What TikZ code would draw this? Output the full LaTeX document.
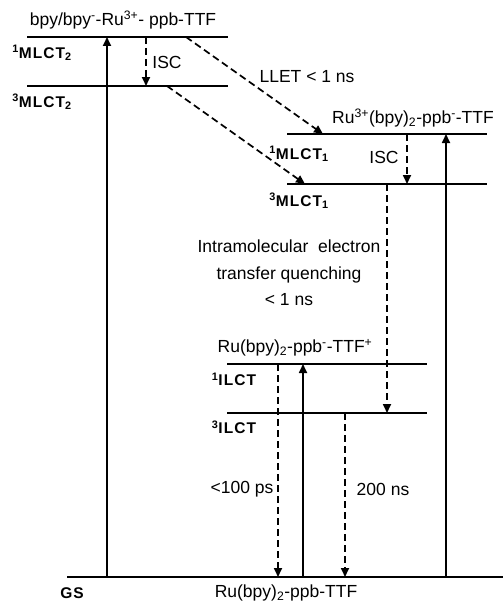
\documentclass[tikz,border=0pt]{standalone}
\usepackage{fontspec}
\setmainfont{Liberation Sans}
\newfontfamily\lblfont[LetterSpace=7]{Liberation Sans}
\usetikzlibrary{arrows.meta}
\tikzset{
  lvl/.style={line width=2.8pt},
  uparrow/.style={line width=1.7pt,-{Triangle[length=9pt,width=8pt]}},
  dasharrow/.style={line width=1.7pt,dash pattern=on 7pt off 4pt,-{Triangle[length=9pt,width=8pt]}},
  txt/.style={font=\fontsize{17.5}{20}\selectfont,inner sep=0pt},
  lbl/.style={font=\lblfont\bfseries\fontsize{15.5}{18}\selectfont,inner sep=0pt},
}
\begin{document}
\begin{tikzpicture}[x=1pt,y=-1pt]
\useasboundingbox (0,0) rectangle (503,602);
% level end points
\coordinate (A1) at (27,37);  \coordinate (A2) at (228,37);
\coordinate (B1) at (27,86);  \coordinate (B2) at (228,86);
\coordinate (C1) at (287,134); \coordinate (C2) at (487,134);
\coordinate (D1) at (287,184); \coordinate (D2) at (487,184);
\coordinate (E1) at (227,364); \coordinate (E2) at (427,364);
\coordinate (F1) at (227,413); \coordinate (F2) at (427,413);
\coordinate (G1) at (67,577);  \coordinate (G2) at (503,577);
\draw[lvl] (A1) -- (A2);
\draw[lvl] (B1) -- (B2);
\draw[lvl] (C1) -- (C2);
\draw[lvl] (D1) -- (D2);
\draw[lvl] (E1) -- (E2);
\draw[lvl] (F1) -- (F2);
\draw[lvl] (G1) -- (G2);
% arrow end points
\coordinate (gA) at (107,577); \coordinate (tA) at (107,37);
\coordinate (gE) at (303,577); \coordinate (tE) at (303,364);
\coordinate (gC) at (446,577); \coordinate (tC) at (446,134);
\coordinate (isc1s) at (146,37); \coordinate (isc1e) at (146,86);
\coordinate (isc2s) at (407,134); \coordinate (isc2e) at (407,184);
\coordinate (ll1s) at (186,37); \coordinate (ll1e) at (323,134);
\coordinate (ll2s) at (167,86); \coordinate (ll2e) at (305,184);
\coordinate (ets) at (387,184); \coordinate (ete) at (387,413);
\coordinate (f1s) at (278,364); \coordinate (f1e) at (278,577);
\coordinate (f2s) at (345,413); \coordinate (f2e) at (345,577);
\draw[uparrow] (gA) -- (tA);
\draw[uparrow] (gE) -- (tE);
\draw[uparrow] (gC) -- (tC);
\draw[dasharrow] (isc1s) -- (isc1e);
\draw[dasharrow] (isc2s) -- (isc2e);
\draw[dasharrow] (ll1s) -- (ll1e);
\draw[dasharrow] (ll2s) -- (ll2e);
\draw[dasharrow] (ets) -- (ete);
\draw[dasharrow] (f1s) -- (f1e);
\draw[dasharrow] (f2s) -- (f2e);
% texts
\node[txt] (t1) at (123,20) {bpy/bpy\textsuperscript{-}-Ru\textsuperscript{3+}- ppb-TTF};
\node[lbl] (l1) at (42,53) {\textsuperscript{1}MLCT\textsubscript{2}};
\node[lbl] (l2) at (42,102) {\textsuperscript{3}MLCT\textsubscript{2}};
\node[txt] (isc1) at (167,62) {ISC};
\node[txt] (llet) at (307,77) {LLET {\textless} 1 ns};
\node[txt] (t2) at (413,118) {Ru\textsuperscript{3+}(bpy)\textsubscript{2}-ppb\textsuperscript{-}-TTF};
\node[lbl] (l3) at (299,154) {\textsuperscript{1}MLCT\textsubscript{1}};
\node[txt] (isc2) at (384,157) {ISC};
\node[lbl] (l4) at (299,201) {\textsuperscript{3}MLCT\textsubscript{1}};
\node[txt,align=center,font=\fontsize{17.5}{26.5}\selectfont] (iet) at (289,273) {Intramolecular\ \ electron\\transfer quenching\\{\textless} 1 ns};
\node[txt] (t3) at (295,348) {Ru(bpy)\textsubscript{2}-ppb\textsuperscript{-}-TTF\textsuperscript{+}};
\node[lbl] (l5) at (234,379) {\textsuperscript{1}ILCT};
\node[lbl] (l6) at (234,427) {\textsuperscript{3}ILCT};
\node[txt] (k1) at (242,489) {{\textless}100 ps};
\node[txt] (k2) at (383,489) {200 ns};
\node[lbl] (gs) at (72,593) {GS};
\node[txt] (t4) at (286,593) {Ru(bpy)\textsubscript{2}-ppb-TTF};
\end{tikzpicture}
\end{document}
